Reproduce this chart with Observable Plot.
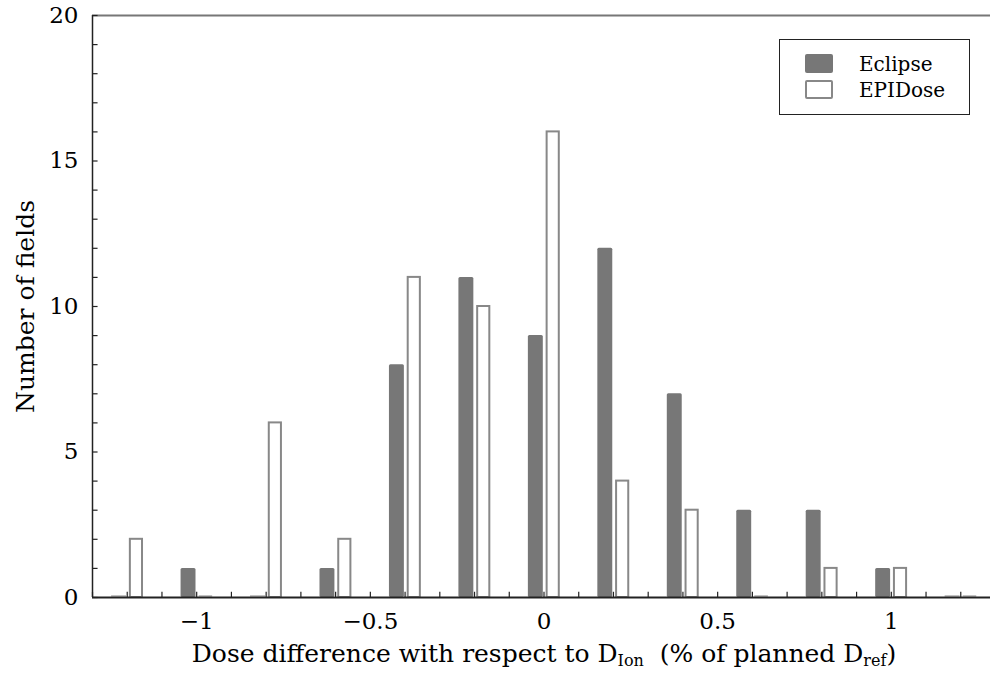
<!DOCTYPE html>
<html>
<head>
<meta charset="utf-8">
<script src="https://cdn.jsdelivr.net/npm/d3@7"></script>
<script src="https://cdn.jsdelivr.net/npm/@observablehq/plot@0.6"></script>
<style>
  body { margin: 0; background: white; }
  #wrap { position: relative; width: 990px; height: 675px; font-family: "DejaVu Serif", serif; color: #000; }
  #xlabel { position: absolute; top: 641px; left: 544px; transform: translateX(-50%); white-space: nowrap; font-size: 25px; line-height: 25px; }
  #xlabel sub { font-size: 16px; vertical-align: -4px; line-height: 0; }
  #legend { position: absolute; left: 779px; top: 39px; width: 191px; height: 76px; border: 1px solid #222; background: white; box-sizing: border-box; }
  .sw { position: absolute; left: 25px; width: 28px; height: 19px; box-sizing: border-box; border-radius: 2px; }
  .lt { position: absolute; left: 79px; font-size: 20px; line-height: 20px; }
</style>
</head>
<body>
<div id="wrap"></div>
<script>
const bins = [-1.2, -1.0, -0.8, -0.6, -0.4, -0.2, 0, 0.2, 0.4, 0.6, 0.8, 1.0, 1.2];
const eclipse = [0, 1, 0, 1, 8, 11, 9, 12, 7, 3, 3, 1, 0];
const epidose = [2, 0, 6, 2, 11, 10, 16, 4, 3, 0, 1, 1, 0];
const xTickLabels = [-1, -0.5, 0, 0.5, 1];
const yTickLabels = [0, 5, 10, 15, 20];
const seriesNames = ["Eclipse", "EPIDose"];

const ecl = bins.map((c, i) => ({c, v: eclipse[i]}));
const epi = bins.map((c, i) => ({c, v: epidose[i]}));

const minorX = d3.range(-13, 14).map(i => i / 10);
const minorY = d3.range(0, 21);
const fmt = d => d === 0 ? "0" : String(d).replace("-", "\u2212");

const plot = Plot.plot({
  width: 990,
  height: 675,
  marginTop: 15,
  marginBottom: 78,
  marginLeft: 92,
  marginRight: -5,
  style: {fontFamily: "DejaVu Serif", fontSize: "23px", background: "white", color: "black"},
  x: {domain: [-1.3, 1.3]},
  y: {domain: [0, 20]},
  marks: [
    // zero-height bars drawn as thin lines
    Plot.ruleY(ecl.filter(d => d.v === 0), {x1: d => d.c - 0.045, x2: d => d.c - 0.002, y: 0, stroke: "#999", strokeWidth: 1.2, dy: -1.5}),
    Plot.ruleY(epi.filter(d => d.v === 0), {x1: d => d.c + 0.007, x2: d => d.c + 0.046, y: 0, stroke: "#999", strokeWidth: 1.2, dy: -1.5}),
    Plot.rect(ecl.filter(d => d.v > 0), {x1: d => d.c - 0.045, x2: d => d.c - 0.002, y1: 0, y2: "v", fill: "#777", rx: 1.5}),
    Plot.rect(epi.filter(d => d.v > 0), {x1: d => d.c + 0.009, x2: d => d.c + 0.044, y1: 0, y2: "v", fill: "white", stroke: "#888", strokeWidth: 2}),
    // frame
    Plot.ruleY([20], {stroke: "#777", strokeWidth: 2}),
    Plot.ruleX([-1.3], {stroke: "#222", strokeWidth: 1.5}),
    Plot.ruleY([0], {stroke: "#222", strokeWidth: 2}),
    // inward minor ticks
    Plot.ruleX(minorX, {y1: 0, y2: 0.18, stroke: "#222", strokeWidth: 1.2}),
    Plot.ruleY(minorY, {x1: -1.3, x2: -1.3 + 0.016, stroke: "#222", strokeWidth: 1.2}),
    // tick labels
    Plot.axisX(xTickLabels, {tickSize: 0, tickPadding: 15, tickFormat: fmt, fontSize: 23}),
    Plot.axisY(yTickLabels, {tickSize: 0, tickPadding: 14, tickFormat: fmt, fontSize: 23, label: null}),
    Plot.text(["Number of fields"], {frameAnchor: "left", rotate: -90, dx: -67, fontSize: 25, textAnchor: "middle"})
  ]
});

const wrap = document.getElementById("wrap");
wrap.appendChild(plot);

const xl = document.createElement("div");
xl.id = "xlabel";
xl.innerHTML = "Dose difference with respect to D<sub>Ion</sub>&nbsp; (% of planned D<sub>ref</sub>)";
wrap.appendChild(xl);

const lg = document.createElement("div");
lg.id = "legend";
lg.innerHTML =
  `<div class="sw" style="top:14px;background:#777;"></div>` +
  `<div class="lt" style="top:14px;">${seriesNames[0]}</div>` +
  `<div class="sw" style="top:40px;background:white;border:2px solid #888;"></div>` +
  `<div class="lt" style="top:40px;">${seriesNames[1]}</div>`;
wrap.appendChild(lg);
</script>
</body>
</html>
